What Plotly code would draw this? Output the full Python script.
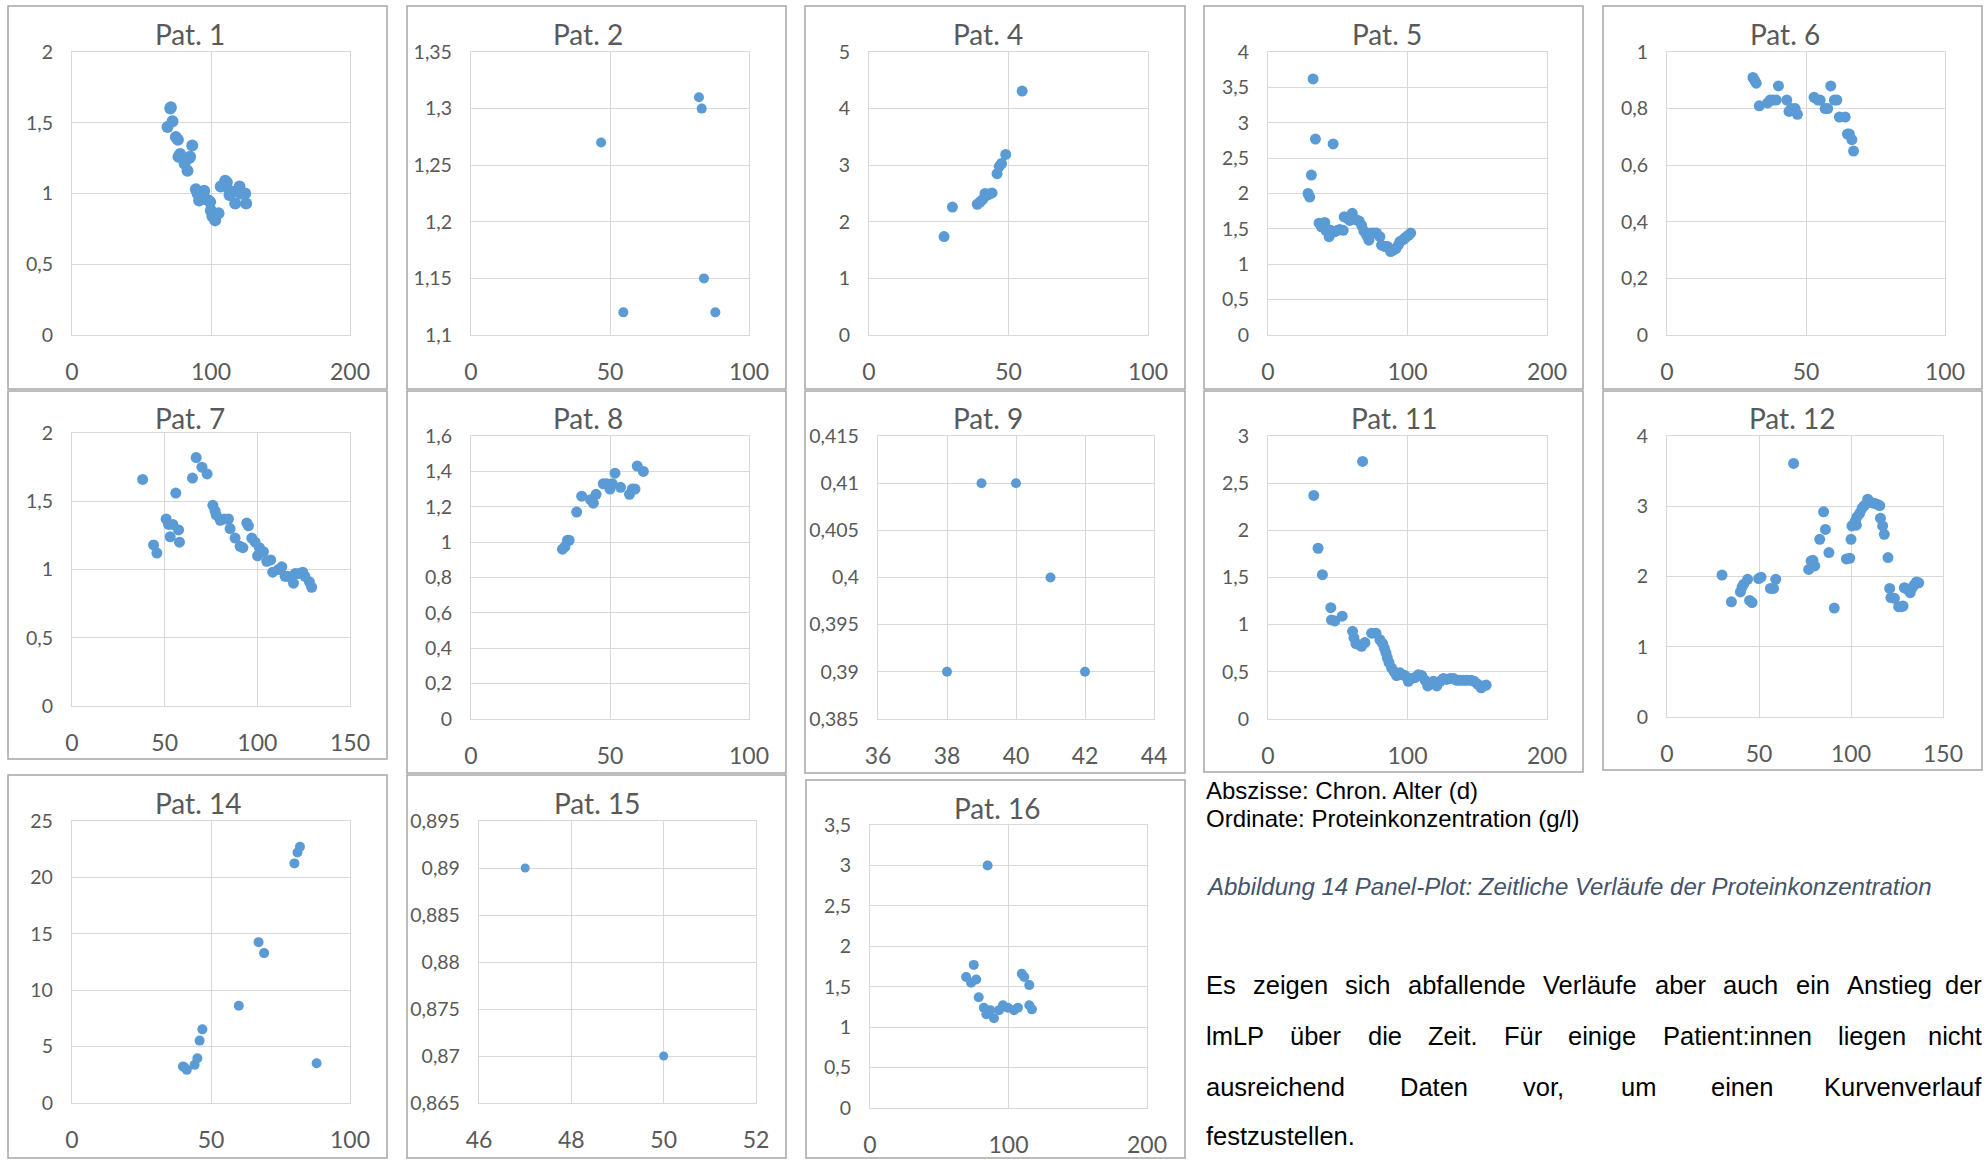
import plotly.graph_objects as go

W, H = 1988, 1160

# ---------------- data (chron. age in days, protein g/l) ----------------
p1_x = [68.7, 70.7, 71.1, 72.3, 74.7, 76.2, 77.8, 76.6, 81.0, 83.1, 84.3, 85.0, 86.5, 89.1, 90.3, 91.5,
        92.9, 95.1, 96.5, 98.2, 99.4, 99.9, 101.0, 103.0, 105.4, 107.0, 110.2, 111.4, 113.3, 113.3,
        115.7, 117.4, 120.5, 121.4, 124.6, 125.3]
p1_y = [1.47, 1.60, 1.61, 1.51, 1.40, 1.38, 1.28, 1.26, 1.21, 1.16, 1.25, 1.26, 1.34, 1.03, 1.00, 0.95,
        0.99, 1.02, 0.96, 0.95, 0.94, 0.88, 0.84, 0.81, 0.86, 1.05, 1.09, 1.08, 1.02, 0.99,
        1.01, 0.93, 1.05, 1.00, 1.00, 0.93]

p2_x = [46.8, 54.8, 82.0, 83.0, 83.8, 87.9]
p2_y = [1.27, 1.12, 1.31, 1.30, 1.15, 1.12]

p4_x = [26.9, 29.9, 38.8, 39.8, 40.7, 41.6, 42.4, 43.1, 44.1, 45.9, 46.7, 47.5, 49.0, 54.9]
p4_y = [1.74, 2.26, 2.31, 2.35, 2.39, 2.50, 2.47, 2.49, 2.51, 2.85, 2.98, 3.03, 3.19, 4.31]

p5_x = [28.7, 29.9, 31.1, 32.3, 34.0, 36.6, 38.3, 40.7, 41.4, 43.8, 44.8, 46.7, 47.9, 49.8, 51.5, 53.9,
        54.6, 57.0, 58.7, 60.4, 63.0, 65.4, 67.1, 68.7, 70.7, 72.3, 73.8, 75.9, 77.8, 80.2, 81.4, 83.8,
        85.7, 87.9, 89.8, 91.7, 93.4, 94.6, 97.0, 98.7, 100.6, 102.3]
p5_y = [2.00, 1.95, 2.26, 3.62, 2.77, 1.58, 1.53, 1.59, 1.48, 1.39, 1.48, 2.70, 1.46, 1.48, 1.49, 1.48,
        1.67, 1.65, 1.62, 1.72, 1.63, 1.61, 1.55, 1.47, 1.41, 1.34, 1.44, 1.44, 1.44, 1.39, 1.27, 1.25,
        1.25, 1.18, 1.20, 1.22, 1.27, 1.32, 1.35, 1.38, 1.41, 1.44]

p6_x = [30.9, 31.5, 32.1, 33.2, 36.2, 37.1, 38.1, 39.3, 40.1, 43.1, 43.9, 44.7, 46.1, 46.9, 52.9, 54.3,
        55.1, 56.9, 57.8, 58.9, 60.2, 61.1, 62.0, 64.1, 64.9, 65.6, 66.5, 67.1]
p6_y = [0.91, 0.90, 0.89, 0.81, 0.82, 0.83, 0.83, 0.83, 0.88, 0.83, 0.79, 0.80, 0.80, 0.78, 0.84, 0.83,
        0.83, 0.80, 0.80, 0.88, 0.83, 0.83, 0.77, 0.77, 0.71, 0.71, 0.69, 0.65]

p7_x = [38.1, 44.0, 45.8, 50.8, 52.1, 53.0, 54.4, 56.0, 57.5, 58.0, 65.0, 67.0, 70.1, 72.9, 76.0, 77.2,
        77.8, 80.0, 82.1, 84.4, 85.3, 88.0, 90.7, 92.2, 94.3, 95.2, 97.0, 98.8, 100.1, 101.1, 103.3,
        105.1, 107.2, 108.3, 111.4, 113.2, 115.0, 116.2, 119.5, 120.4, 122.5, 124.5, 125.7, 128.1, 129.3]
p7_y = [1.66, 1.18, 1.12, 1.37, 1.33, 1.24, 1.33, 1.56, 1.29, 1.20, 1.67, 1.82, 1.75, 1.70, 1.47, 1.43,
        1.40, 1.36, 1.37, 1.37, 1.30, 1.23, 1.17, 1.16, 1.34, 1.32, 1.23, 1.20, 1.10, 1.16, 1.13,
        1.06, 1.07, 0.98, 1.00, 1.02, 0.95, 0.95, 0.90, 0.97, 0.97, 0.98, 0.95, 0.91, 0.87]

p8_x = [32.9, 33.8, 34.7, 35.3, 38.0, 39.8, 43.0, 44.0, 45.0, 47.6, 48.8, 50.0, 50.8, 51.8, 53.8, 57.0,
        58.0, 59.0, 59.8, 62.0]
p8_y = [0.96, 0.975, 1.01, 1.01, 1.17, 1.26, 1.24, 1.22, 1.27, 1.33, 1.33, 1.30, 1.33, 1.39, 1.31, 1.27,
        1.30, 1.30, 1.43, 1.40]

p9_x = [38, 39, 40, 41, 42]
p9_y = [0.39, 0.41, 0.41, 0.40, 0.39]

p11_x = [32.8, 35.9, 39.0, 45.0, 45.5, 47.9, 53.2, 60.6, 61.6, 63.0, 64.7, 67.1, 67.8, 69.5, 74.3, 77.4,
         80.2, 82.2, 83.4, 84.6, 85.5, 86.7, 88.6, 90.5, 92.2, 94.6, 95.8, 98.2, 100.6, 103.0, 105.4,
         107.8, 110.2, 112.6, 114.5, 116.2, 118.6, 121.0, 123.4, 125.7, 128.1, 130.5, 132.9, 135.3,
         137.7, 140.1, 142.5, 145.4, 147.8, 150.2, 152.8, 154.5, 156.4]
p11_y = [2.37, 1.81, 1.53, 1.18, 1.05, 1.04, 1.09, 0.93, 0.86, 0.80, 0.79, 0.77, 2.73, 0.81, 0.91, 0.91,
         0.84, 0.80, 0.75, 0.70, 0.65, 0.60, 0.54, 0.50, 0.46, 0.49, 0.47, 0.46, 0.40, 0.43, 0.44,
         0.47, 0.46, 0.41, 0.35, 0.37, 0.40, 0.35, 0.40, 0.43, 0.42, 0.43, 0.43, 0.41,
         0.41, 0.41, 0.41, 0.41, 0.40, 0.37, 0.33, 0.35, 0.36]

p12_x = [29.9, 35.0, 39.9, 40.8, 41.7, 43.8, 44.9, 46.2, 49.8, 51.1, 56.2, 57.9, 59.1, 68.8, 77.0, 78.3,
         79.3, 80.3, 83.0, 85.1, 86.1, 88.0, 90.9, 97.5, 99.3, 100.0, 100.5, 101.4, 102.9, 102.4, 103.3,
         104.7, 106.0, 107.2, 109.1, 111.4, 112.9, 114.1, 115.6, 116.0, 117.2, 118.1, 120.1, 121.0,
         121.7, 123.6, 125.9, 127.2, 128.3, 129.0, 130.4, 132.2, 133.2, 134.4, 135.5, 136.8]
p12_y = [2.02, 1.64, 1.78, 1.85, 1.89, 1.96, 1.66, 1.63, 1.97, 1.99, 1.83, 1.83, 1.96, 3.61, 2.10, 2.22,
         2.23, 2.15, 2.53, 2.92, 2.67, 2.34, 1.55, 2.25, 2.26, 2.53, 2.72, 2.74, 2.73, 2.79, 2.85,
         2.90, 2.97, 3.01, 3.10, 3.05, 3.04, 3.03, 3.01, 2.83, 2.72, 2.60, 2.27, 1.83,
         1.70, 1.69, 1.57, 1.57, 1.58, 1.84, 1.82, 1.77, 1.84, 1.88, 1.92, 1.91]

p14_x = [39.9, 40.5, 41.3, 44.1, 45.1, 45.9, 46.9, 60.0, 67.1, 69.1, 80.0, 81.1, 82.0, 88.0]
p14_y = [3.24, 3.15, 2.94, 3.38, 3.97, 5.53, 6.53, 8.62, 14.26, 13.29, 21.24, 22.21, 22.71, 3.53]

p15_x = [47, 50]
p15_y = [0.89, 0.87]

p16_x = [69.4, 73.0, 76.7, 74.9, 78.5, 82.2, 84.0, 86.8, 89.5, 93.2, 96.0, 99.5, 104.0, 106.8, 109.6,
         111.4, 115.0, 115.0, 116.9, 84.9]
p16_y = [1.62, 1.55, 1.59, 1.77, 1.37, 1.24, 1.16, 1.21, 1.11, 1.21, 1.27, 1.24, 1.21, 1.24, 1.66,
         1.62, 1.52, 1.27, 1.22, 3.00]

# ---------------- tick labels ----------------
x_0_200 = [0, 100, 200];            x_0_200_t = ["0", "100", "200"]
x_0_100 = [0, 50, 100];             x_0_100_t = ["0", "50", "100"]
x_0_150 = [0, 50, 100, 150];        x_0_150_t = ["0", "50", "100", "150"]
x_36_44 = [36, 38, 40, 42, 44];     x_36_44_t = ["36", "38", "40", "42", "44"]
x_46_52 = [46, 48, 50, 52];         x_46_52_t = ["46", "48", "50", "52"]

y_0_2 = [0, 0.5, 1, 1.5, 2];        y_0_2_t = ["0", "0,5", "1", "1,5", "2"]
y_p2 = [1.1, 1.15, 1.2, 1.25, 1.3, 1.35]; y_p2_t = ["1,1", "1,15", "1,2", "1,25", "1,3", "1,35"]
y_0_5 = [0, 1, 2, 3, 4, 5];         y_0_5_t = ["0", "1", "2", "3", "4", "5"]
y_0_4h = [0, 0.5, 1, 1.5, 2, 2.5, 3, 3.5, 4]; y_0_4h_t = ["0", "0,5", "1", "1,5", "2", "2,5", "3", "3,5", "4"]
y_0_1 = [0, 0.2, 0.4, 0.6, 0.8, 1]; y_0_1_t = ["0", "0,2", "0,4", "0,6", "0,8", "1"]
y_0_16 = [0, 0.2, 0.4, 0.6, 0.8, 1, 1.2, 1.4, 1.6]; y_0_16_t = ["0", "0,2", "0,4", "0,6", "0,8", "1", "1,2", "1,4", "1,6"]
y_p9 = [0.385, 0.39, 0.395, 0.4, 0.405, 0.41, 0.415]; y_p9_t = ["0,385", "0,39", "0,395", "0,4", "0,405", "0,41", "0,415"]
y_0_3 = [0, 0.5, 1, 1.5, 2, 2.5, 3]; y_0_3_t = ["0", "0,5", "1", "1,5", "2", "2,5", "3"]
y_0_4 = [0, 1, 2, 3, 4];            y_0_4_t = ["0", "1", "2", "3", "4"]
y_0_25 = [0, 5, 10, 15, 20, 25];    y_0_25_t = ["0", "5", "10", "15", "20", "25"]
y_p15 = [0.865, 0.87, 0.875, 0.88, 0.885, 0.89, 0.895]; y_p15_t = ["0,865", "0,87", "0,875", "0,88", "0,885", "0,89", "0,895"]
y_0_35 = [0, 0.5, 1, 1.5, 2, 2.5, 3, 3.5]; y_0_35_t = ["0", "0,5", "1", "1,5", "2", "2,5", "3", "3,5"]

titles = ["Pat. 1", "Pat. 2", "Pat. 4", "Pat. 5", "Pat. 6", "Pat. 7", "Pat. 8", "Pat. 9",
          "Pat. 11", "Pat. 12", "Pat. 14", "Pat. 15", "Pat. 16"]

# ---------------- layout geometry (pixels) ----------------
panels = [
    (p1_x, p1_y, x_0_200, x_0_200_t, y_0_2, y_0_2_t, (72, 350, 52, 335), (8, 387, 6, 389), (190, 34), 12),
    (p2_x, p2_y, x_0_100, x_0_100_t, y_p2, y_p2_t, (471, 749, 52, 335), (407, 786, 6, 389), (588, 34), 10),
    (p4_x, p4_y, x_0_100, x_0_100_t, y_0_5, y_0_5_t, (869, 1148, 52, 335), (805, 1185, 6, 389), (988, 34), 11),
    (p5_x, p5_y, x_0_200, x_0_200_t, y_0_4h, y_0_4h_t, (1268, 1547, 52, 335), (1204, 1583, 6, 389), (1387, 34), 11),
    (p6_x, p6_y, x_0_100, x_0_100_t, y_0_1, y_0_1_t, (1667, 1945, 52, 335), (1603, 1982, 6, 389), (1785, 34), 11),
    (p7_x, p7_y, x_0_150, x_0_150_t, y_0_2, y_0_2_t, (72, 350, 433, 706), (8, 387, 391, 759), (190, 418), 11),
    (p8_x, p8_y, x_0_100, x_0_100_t, y_0_16, y_0_16_t, (471, 749, 436, 719), (407, 786, 391, 773), (588, 418), 11),
    (p9_x, p9_y, x_36_44, x_36_44_t, y_p9, y_p9_t, (878, 1154, 436, 719), (805, 1185, 391, 773), (988, 418), 10),
    (p11_x, p11_y, x_0_200, x_0_200_t, y_0_3, y_0_3_t, (1268, 1547, 436, 719), (1204, 1583, 391, 772), (1394, 418), 11),
    (p12_x, p12_y, x_0_150, x_0_150_t, y_0_4, y_0_4_t, (1667, 1943, 436, 717), (1603, 1982, 391, 770), (1792, 418), 11),
    (p14_x, p14_y, x_0_100, x_0_100_t, y_0_25, y_0_25_t, (72, 350, 821, 1103), (8, 387, 775, 1158), (198, 803), 10),
    (p15_x, p15_y, x_46_52, x_46_52_t, y_p15, y_p15_t, (479, 756, 821, 1103), (407, 786, 775, 1158), (597, 803), 9),
    (p16_x, p16_y, x_0_200, x_0_200_t, y_0_35, y_0_35_t, (870, 1147, 825, 1108), (806, 1185, 780, 1158), (997, 808), 10),
]

GRID = "#d9d9d9"
TXT = "#595959"
BLUE = "#5b9bd5"
FONT = "Lato"


def px(x):
    return x / W


def py(y):
    return 1 - y / H


fig = go.Figure()
layout = dict(
    width=W, height=H, margin=dict(l=0, r=0, t=0, b=0, pad=0, autoexpand=False), autosize=False,
    paper_bgcolor="white", plot_bgcolor="white", showlegend=False,
    separators=", ",
)
shapes = []
annotations = []

for i, (xs, ys, xt, xtt, yt, ytt, box, frame, tpos, msize) in enumerate(panels):
    n = i + 1
    xa = "x" if n == 1 else f"x{n}"
    ya = "y" if n == 1 else f"y{n}"
    fig.add_trace(go.Scatter(
        x=xs, y=ys, mode="markers", xaxis=xa, yaxis=ya,
        marker=dict(color=BLUE, size=msize, line=dict(width=0)),
        hoverinfo="x+y",
    ))
    l, r, t, b = box
    axkey = "xaxis" if n == 1 else f"xaxis{n}"
    aykey = "yaxis" if n == 1 else f"yaxis{n}"
    layout[axkey] = dict(
        domain=[px(l), px(r)], anchor=ya, range=[xt[0], xt[-1]],
        tickmode="array", tickvals=xt, ticktext=xtt, automargin=False,
        showgrid=True, gridcolor=GRID, gridwidth=1.3, zeroline=False,
        showline=True, linecolor=GRID, linewidth=1.3, mirror=True,
        ticks="", ticklabelstandoff=16,
        tickfont=dict(family=FONT, size=23, color=TXT), fixedrange=True,
    )
    layout[aykey] = dict(
        domain=[py(b), py(t)], anchor=xa, range=[yt[0], yt[-1]],
        tickmode="array", tickvals=yt, ticktext=ytt, automargin=False,
        showgrid=True, gridcolor=GRID, gridwidth=1.3, zeroline=False,
        showline=True, linecolor=GRID, linewidth=1.3, mirror=True,
        ticks="", ticklabelstandoff=14,
        tickfont=dict(family=FONT, size=19.5, color=TXT), fixedrange=True,
    )
    fl, fr, ft, fb = frame
    shapes.append(dict(type="rect", xref="paper", yref="paper",
                       x0=px(fl), x1=px(fr), y0=py(fb), y1=py(ft),
                       line=dict(color="#a6a6a6", width=1.5), layer="below"))
    annotations.append(dict(text=titles[i], xref="paper", yref="paper",
                            x=px(tpos[0]), y=py(tpos[1]), xanchor="center", yanchor="middle",
                            showarrow=False, font=dict(family=FONT, size=28, color=TXT)))

# ---------------- side texts ----------------
ARIAL = "Liberation Sans, Arial"
TEXT_LEFT, TEXT_RIGHT = 1204, 1984

side_lines = [
    ("Abszisse: Chron. Alter (d)", 790),
    ("Ordinate: Proteinkonzentration (g/l)", 818),
]
for txt, yy in side_lines:
    annotations.append(dict(text=txt, xref="paper", yref="paper", x=px(TEXT_LEFT), y=py(yy),
                            xanchor="left", yanchor="middle", showarrow=False,
                            font=dict(family=ARIAL, size=24, color="#000000")))

annotations.append(dict(text="<i>Abbildung 14 Panel-Plot: Zeitliche Verläufe der Proteinkonzentration</i>",
                        xref="paper", yref="paper", x=px(TEXT_LEFT), y=py(886),
                        xanchor="left", yanchor="middle", showarrow=False,
                        font=dict(family=ARIAL, size=24, color="#44546a")))

# Arial advance widths (1/1000 em) used to justify the paragraph
AW = {" ": 278, ",": 278, ".": 278, ":": 278, "a": 556, "b": 556, "c": 500, "d": 556, "e": 556,
      "f": 278, "g": 556, "h": 556, "i": 222, "k": 500, "l": 222, "m": 833, "n": 556, "o": 556,
      "r": 333, "s": 500, "t": 278, "u": 556, "v": 500, "z": 500, "ä": 556, "ü": 556,
      "A": 667, "D": 722, "E": 667, "F": 611, "K": 667, "L": 556, "P": 667, "V": 667, "Z": 611}


def tw(s, size):
    return sum(AW.get(c, 556) for c in s) / 1000 * size


PARA_SIZE = 25.5
para_lines = [
    ("Es zeigen sich abfallende Verläufe aber auch ein Anstieg der", 985, True),
    ("lmLP über die Zeit. Für einige Patient:innen liegen nicht", 1036, True),
    ("ausreichend Daten vor, um einen Kurvenverlauf", 1087, True),
    ("festzustellen.", 1136, False),
]
for txt, yy, justify in para_lines:
    if not justify:
        annotations.append(dict(text=txt, xref="paper", yref="paper", x=px(TEXT_LEFT), y=py(yy),
                                xanchor="left", yanchor="middle", showarrow=False,
                                font=dict(family=ARIAL, size=PARA_SIZE, color="#000000")))
        continue
    words = txt.split(" ")
    widths = [tw(w, PARA_SIZE) for w in words]
    gap = (TEXT_RIGHT - TEXT_LEFT - sum(widths)) / (len(words) - 1)
    xx = TEXT_LEFT
    for j, w in enumerate(words):
        last = j == len(words) - 1
        annotations.append(dict(text=w, xref="paper", yref="paper",
                                x=px(TEXT_RIGHT if last else xx), y=py(yy),
                                xanchor="right" if last else "left", yanchor="middle",
                                showarrow=False,
                                font=dict(family=ARIAL, size=PARA_SIZE, color="#000000")))
        xx += widths[j] + gap

layout["shapes"] = shapes
layout["annotations"] = annotations
fig.update_layout(**layout)
fig.write_html("out.html",
               post_script="document.body.style.margin='0';document.body.style.padding='0';"
                           "document.body.style.overflow='hidden';")
